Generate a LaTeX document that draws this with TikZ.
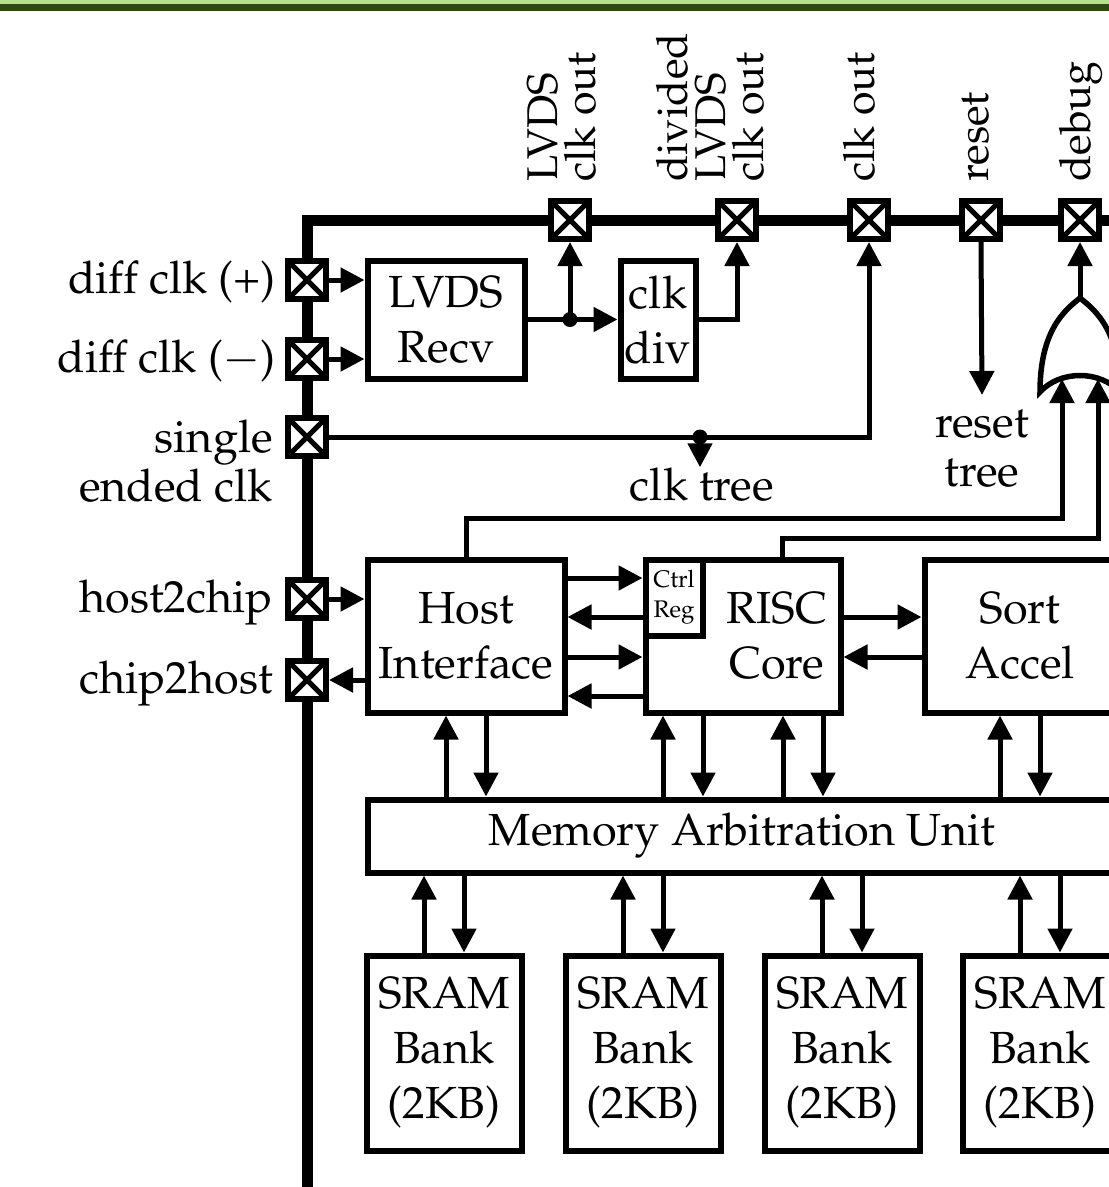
\documentclass[tikz,border=0pt]{standalone}
\usepackage[T1]{fontenc}
\usepackage{mathpazo}
\usetikzlibrary{arrows.meta}
\definecolor{hdrlight}{RGB}{184,224,140}
\definecolor{hdrdark}{RGB}{44,74,18}
\newcommand{\bxfont}{\fontsize{45}{55}\selectfont}
\newcommand{\lbfont}{\fontsize{45}{49}\selectfont}
\newcommand{\rtfont}{\fontsize{43}{38}\selectfont}
\newcommand{\smfont}{\fontsize{24}{30}\selectfont}
\tikzset{
  bus/.style={line width=11pt},
  blk/.style={draw, line width=6pt, fill=white, font=\bxfont, align=center, inner sep=0pt},
  iopad/.style={draw, line width=6pt, fill=white, minimum size=38pt, inner sep=0pt,
    path picture={\draw[line width=5pt] (path picture bounding box.north west) -- (path picture bounding box.south east)
      (path picture bounding box.north east) -- (path picture bounding box.south west);}},
  arr/.style={line width=5pt, -{Triangle[length=24pt,width=24pt]}},
  lbl/.style={font=\lbfont, inner sep=0pt},
  rlbl/.style={font=\rtfont, inner sep=0pt, rotate=90, align=left, anchor=south west},
  jdot/.style={circle, fill, inner sep=0pt, minimum size=15pt},
}
\begin{document}
\begin{tikzpicture}[x=1pt,y=-1pt]
\useasboundingbox (0,0) rectangle (1109,1187);
\clip (0,0) rectangle (1109,1187);
\fill[hdrlight] (0,0) rectangle (1109,3.5);
\fill[hdrdark] (0,3.5) rectangle (1109,10.5);

% bus
\coordinate (busb) at (307,1200);
\coordinate (busc) at (307,220);
\coordinate (buse) at (1130,220);
\draw[bus] (busb) -- (busc) -- (buse);

% pads
\node[iopad] (pp) at (307,280) {};
\node[iopad] (pm) at (307,359) {};
\node[iopad] (pse) at (307,437) {};
\node[iopad] (ph2c) at (307,599) {};
\node[iopad] (pc2h) at (307,680) {};
\node[iopad] (plvds) at (570,220) {};
\node[iopad] (pdiv) at (737,220) {};
\node[iopad] (pclk) at (869,220) {};
\node[iopad] (prst) at (981,220) {};
\node[iopad] (pdbg) at (1080,220) {};

% pad labels
\node[lbl, anchor=base east] (lpp) at ([xshift=-9pt,yshift=-13pt]pp.west) {diff clk (+)};
\node[lbl, anchor=base east] (lpm) at ([xshift=-9pt,yshift=-13pt]pm.west) {diff clk ($-$)};
\node[lbl, anchor=north east, align=right] (lse) at ([xshift=-12pt,yshift=17pt]pse.west) {single\\ended clk};
\node[lbl, anchor=base east] (lh2c) at ([xshift=-12pt,yshift=-13pt]ph2c.west) {host2chip};
\node[lbl, anchor=base east] (lc2h) at ([xshift=-12pt,yshift=-13pt]pc2h.west) {chip2host};
\node[rlbl] (tl1) at (597,182) {LVDS\\clk out};
\node[rlbl] (tl2) at (765,182) {divided\\LVDS\\clk out};
\node[rlbl] (tl3) at (876,182) {clk out};
\node[rlbl] (tl4) at (990,182) {reset};
\node[rlbl, anchor=base west] (tl5) at (1090,182) {debug};

% blocks
\node[blk, minimum width=157pt, minimum height=118pt] (lvds) at (446,319.5) {LVDS\\Recv};
\node[blk, minimum width=75pt, minimum height=118pt] (div) at (658,319.5) {clk\\div};
\node[blk, minimum width=197pt, minimum height=153pt] (host) at (466,636) {Host\\Interface};
\node[blk, minimum width=195pt, minimum height=153pt,
  label={[font=\bxfont, align=center, xshift=34pt]center:{RISC\\Core}}] (risc) at (743,636) {};
\node[blk, font=\smfont, minimum width=57pt, minimum height=76pt] (ctrl) at (674,597.5) {Ctrl\\Reg};
\node[blk, minimum width=191pt, minimum height=153pt] (sort) at (1020,636) {Sort\\Accel};
\node[blk, minimum width=749pt, minimum height=73pt] (mau) at (742,836) {Memory Arbitration Unit};
\node[blk, minimum width=155pt, minimum height=195pt] (b1) at (444,1053) {SRAM\\Bank\\(2KB)};
\node[blk, minimum width=155pt, minimum height=195pt] (b2) at (643,1053) {SRAM\\Bank\\(2KB)};
\node[blk, minimum width=155pt, minimum height=195pt] (b3) at (842,1053) {SRAM\\Bank\\(2KB)};
\node[blk, minimum width=155pt, minimum height=195pt] (b4) at (1040,1053) {SRAM\\Bank\\(2KB)};

% clock section
\draw[arr] (pp.east) -- (pp.east -| lvds.west);
\draw[arr] (pm.east) -- (pm.east -| lvds.west);
\draw[arr] (lvds.east) -- (div.west);
\coordinate (j1) at (lvds.east -| plvds);
\draw[arr] (j1) -- (plvds.south);
\node[jdot] at (j1) {};
\draw[arr] (div.east) -| (pdiv.south);
\draw[arr] (pse.east) -| (pclk.south);
\coordinate (j2) at (700,437);
\node[lbl, anchor=base] (clktree) at (702,500) {clk tree};
\draw[arr] (j2) -- (j2 |- clktree.north);
\node[jdot] at (j2) {};

% reset
\node[lbl, align=center, anchor=north] (rtree) at (982,410) {reset\\tree};
\draw[arr] (prst.south) -- ([yshift=15pt]rtree.north);

% OR gate
\coordinate (gout) at (1080,298);
\draw[line width=5.5pt, fill=white] (1040,392) .. controls (1040,330) and (1065,310) .. (gout)
  .. controls (1095,310) and (1120,330) .. (1120,392)
  .. controls (1100,370) and (1060,370) .. cycle;
\draw[arr] (gout) -- (pdbg.south);
\coordinate (g1) at (1062,379);
\coordinate (g2) at (1098,379);
\coordinate (r1) at (1062,518);
\coordinate (r2) at (1098,538);
\draw[arr] (host.north) |- (r1) -- (g1);
\draw[arr] ([xshift=39pt]risc.north) |- (r2) -- (g2);

% host pads
\draw[arr] (ph2c.east) -- (ph2c.east -| host.west);
\draw[arr] (host.west |- pc2h) -- (pc2h.east);

% host <-> risc
\draw[arr] ([yshift=58pt]host.east) -- ([yshift=58pt]host.east -| ctrl.west);
\draw[arr] ([yshift=19pt]host.east -| ctrl.west) -- ([yshift=19pt]host.east);
\draw[arr] ([yshift=-21pt]host.east) -- ([yshift=-21pt]host.east -| risc.west);
\draw[arr] ([yshift=-60pt]host.east -| risc.west) -- ([yshift=-60pt]host.east);
% risc <-> sort
\draw[arr] ([yshift=19pt]risc.east) -- ([yshift=19pt]risc.east -| sort.west);
\draw[arr] ([yshift=-21pt]risc.east -| sort.west) -- ([yshift=-21pt]risc.east);

% blocks <-> MAU
\draw[arr] ([xshift=-20pt]host.south |- mau.north) -- ([xshift=-20pt]host.south);
\draw[arr] ([xshift=20pt]host.south) -- ([xshift=20pt]host.south |- mau.north);
\draw[arr] ([xshift=-80pt]risc.south |- mau.north) -- ([xshift=-80pt]risc.south);
\draw[arr] ([xshift=-40pt]risc.south) -- ([xshift=-40pt]risc.south |- mau.north);
\draw[arr] ([xshift=40pt]risc.south |- mau.north) -- ([xshift=40pt]risc.south);
\draw[arr] ([xshift=80pt]risc.south) -- ([xshift=80pt]risc.south |- mau.north);
\draw[arr] ([xshift=-20pt]sort.south |- mau.north) -- ([xshift=-20pt]sort.south);
\draw[arr] ([xshift=20pt]sort.south) -- ([xshift=20pt]sort.south |- mau.north);

% MAU <-> banks
\foreach \b in {b1,b2,b3,b4}{
  \draw[arr] ([xshift=-20pt]\b.north) -- ([xshift=-20pt]\b.north |- mau.south);
  \draw[arr] ([xshift=20pt]\b.north |- mau.south) -- ([xshift=20pt]\b.north);
}
\end{tikzpicture}
\end{document}
